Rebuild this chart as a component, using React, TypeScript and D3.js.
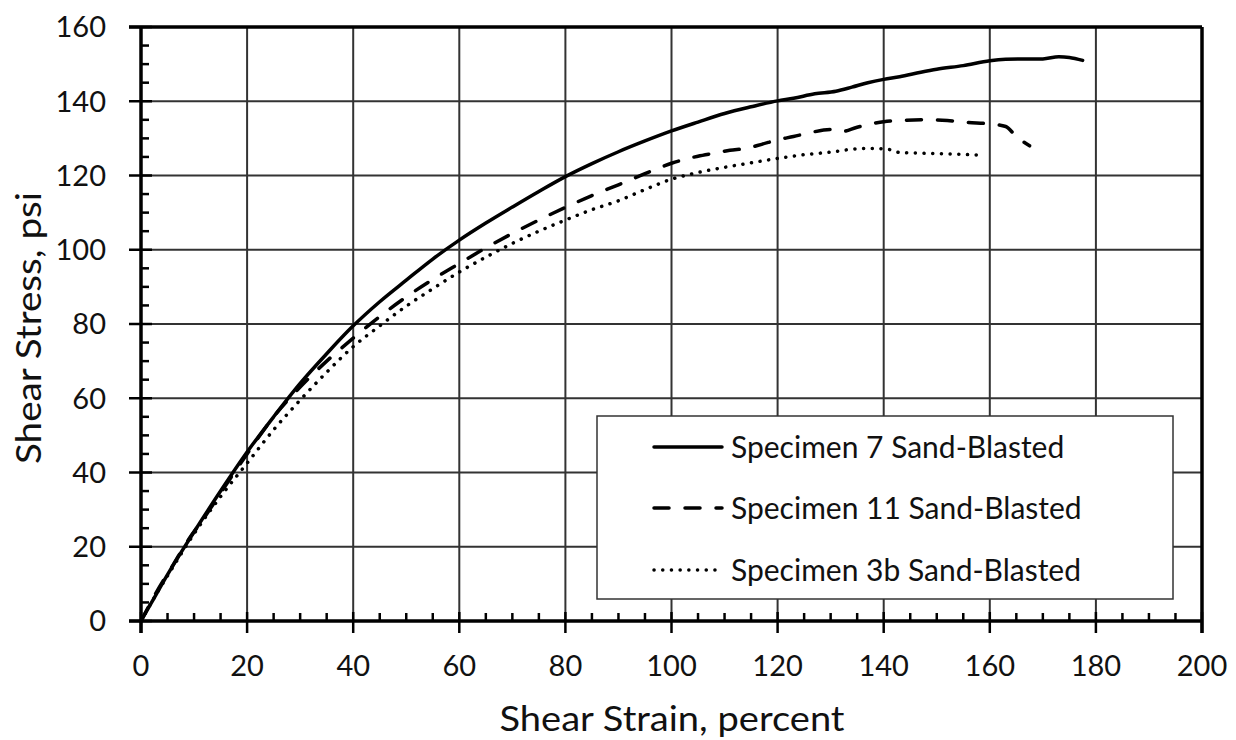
import React from "react";
import * as d3 from "d3";

const xTicks = [0, 20, 40, 60, 80, 100, 120, 140, 160, 180, 200];
const yTicks = [0, 20, 40, 60, 80, 100, 120, 140, 160];

const s7Strain = [0, 2, 5, 8, 10, 15, 20, 25, 30, 35, 40, 45, 50, 55, 60, 65, 70, 75, 80, 85, 90, 95, 100, 105, 110, 115, 120, 123, 127, 131, 134, 137, 140, 143, 147, 150, 155, 160, 163, 166, 170, 173, 175, 177.5];
const s7Stress = [0, 5, 12.5, 19.5, 24, 35, 45.5, 55, 64, 72, 79.5, 86, 91.8, 97.5, 102.6, 107.2, 111.5, 115.7, 119.7, 123.2, 126.4, 129.3, 132, 134.4, 136.7, 138.5, 140.1, 140.8, 142, 142.7, 143.8, 145, 145.9, 146.6, 147.8, 148.6, 149.6, 150.9, 151.3, 151.4, 151.4, 152, 151.8, 151];

const s11Strain = [0, 3, 6, 9, 12, 15, 20, 25, 30, 35, 40, 45, 50, 55, 60, 65, 70, 75, 80, 85, 90, 95, 100, 105, 108, 111, 114, 117, 120, 123, 126, 130, 132, 135, 138, 140, 143, 148, 152, 156, 160, 163, 165, 167.5];
const s11Stress = [0, 8, 15, 22, 28, 34.5, 45, 55, 63, 70, 76.2, 82, 87.3, 92, 96.3, 100.5, 104.4, 108, 111.4, 114.6, 117.5, 120.5, 123.3, 125.2, 126, 126.8, 127.3, 128.4, 129.6, 130.5, 131.5, 132.4, 131.8, 133, 134, 134.5, 134.8, 135, 134.8, 134.3, 133.9, 133.2, 130.5, 128];

const s3bStrain = [0, 3, 6, 10, 15, 20, 25, 30, 35, 40, 45, 50, 55, 60, 65, 70, 75, 80, 85, 90, 95, 100, 105, 110, 115, 120, 125, 130, 135, 138, 141, 143, 147, 152, 158.5];
const s3bStress = [0, 7.5, 14.5, 23.5, 33.5, 42.5, 51.5, 59.5, 67, 73.9, 79.5, 84.8, 89.5, 94, 98, 101.7, 105, 108, 110.8, 113.2, 116.2, 119, 120.8, 122.2, 123.4, 124.6, 125.6, 126.3, 127.2, 127.3, 127, 126.2, 126, 125.8, 125.5];

const seriesNames = ["Specimen 7 Sand-Blasted", "Specimen 11 Sand-Blasted", "Specimen 3b Sand-Blasted"];
const xTitle = "Shear Strain, percent";
const yTitle = "Shear Stress, psi";

const FONT = "Lato, 'Open Sans', sans-serif";

export default function App() {
  const W = 1236, H = 740;
  const x = d3.scaleLinear().domain([0, 200]).range([141, 1202]);
  const y = d3.scaleLinear().domain([0, 160]).range([621, 27]);

  const line = d3
    .line<[number, number]>()
    .x((d) => x(d[0]))
    .y((d) => y(d[1]))
    .curve(d3.curveMonotoneX);

  const series = [
    { pts: s7Strain.map((v, i) => [v, s7Stress[i]] as [number, number]), dash: "none" },
    { pts: s11Strain.map((v, i) => [v, s11Stress[i]] as [number, number]), dash: "15,16" },
    { pts: s3bStrain.map((v, i) => [v, s3bStress[i]] as [number, number]), dash: "0.1,8.6" },
  ];

  const minorX = d3.range(0, 201, 5).filter((v) => v % 20 !== 0);
  const minorY = d3.range(0, 161, 5).filter((v) => v % 20 !== 0);

  const legendRows = [447, 508, 570];

  return (
    <svg width={W} height={H} style={{ position: "absolute", left: 0, top: 0, display: "block", background: "#fff" }}>
      {xTicks.slice(1, -1).map((t) => (
        <line key={"gx" + t} x1={x(t)} x2={x(t)} y1={y(0)} y2={y(160)} stroke="#333" strokeWidth={2} />
      ))}
      {yTicks.slice(1, -1).map((t) => (
        <line key={"gy" + t} x1={x(0)} x2={x(200)} y1={y(t)} y2={y(t)} stroke="#333" strokeWidth={2} />
      ))}

      {series.map((s, i) => (
        <path
          key={"s" + i}
          d={line(s.pts) || ""}
          fill="none"
          stroke="#000"
          strokeWidth={3.5}
          strokeDasharray={s.dash}
          strokeLinecap="round"
          strokeLinejoin="round"
        />
      ))}

      <line x1={x(0) - 12} x2={x(200)} y1={y(160)} y2={y(160)} stroke="#000" strokeWidth={3.5} />
      <line x1={x(200)} x2={x(200)} y1={y(160)} y2={y(0) + 12} stroke="#000" strokeWidth={3.5} />
      <line x1={x(0)} x2={x(0)} y1={y(160)} y2={y(0) + 12} stroke="#000" strokeWidth={3.5} />
      <line x1={x(0) - 12} x2={x(200)} y1={y(0)} y2={y(0)} stroke="#000" strokeWidth={3.5} />

      {yTicks.map((t) => (
        <line key={"yt" + t} x1={x(0) - 12} x2={x(0) + 11} y1={y(t)} y2={y(t)} stroke="#000" strokeWidth={2.5} />
      ))}
      {minorY.map((t) => (
        <line key={"ym" + t} x1={x(0)} x2={x(0) + 8} y1={y(t)} y2={y(t)} stroke="#000" strokeWidth={2.5} />
      ))}
      {xTicks.map((t) => (
        <line key={"xt" + t} x1={x(t)} x2={x(t)} y1={y(0) - 9} y2={y(0) + 12} stroke="#000" strokeWidth={2.5} />
      ))}
      {minorX.map((t) => (
        <line key={"xm" + t} x1={x(t)} x2={x(t)} y1={y(0) - 8} y2={y(0)} stroke="#000" strokeWidth={2.5} />
      ))}

      {yTicks.map((t) => (
        <text key={"yl" + t} x={106} y={y(t)} dy="0.36em" textAnchor="end" fontFamily={FONT} fontSize={29} fill="#111">
          {t}
        </text>
      ))}
      {xTicks.map((t) => (
        <text key={"xl" + t} x={x(t)} y={676} textAnchor="middle" fontFamily={FONT} fontSize={29} fill="#111">
          {t}
        </text>
      ))}

      <text x={672} y={731} textAnchor="middle" fontFamily={FONT} fontSize={35} fill="#111" textLength={345} lengthAdjust="spacingAndGlyphs">
        {xTitle}
      </text>
      <text
        transform={`translate(28, 328) rotate(-90)`}
        dy="0.36em"
        textAnchor="middle"
        fontFamily={FONT}
        fontSize={35}
        fill="#111"
        textLength={272}
        lengthAdjust="spacingAndGlyphs"
      >
        {yTitle}
      </text>

      <rect x={597} y={416} width={576} height={183} fill="#fff" stroke="#333" strokeWidth={1.5} />
      {legendRows.map((ly, i) => (
        <g key={"lg" + i}>
          <line
            x1={654}
            x2={722}
            y1={ly}
            y2={ly}
            stroke="#000"
            strokeWidth={3.5}
            strokeDasharray={series[i].dash}
            strokeLinecap="round"
          />
          <text x={731} y={ly} dy="0.36em" fontFamily={FONT} fontSize={30} fill="#111">
            {seriesNames[i]}
          </text>
        </g>
      ))}
    </svg>
  );
}
